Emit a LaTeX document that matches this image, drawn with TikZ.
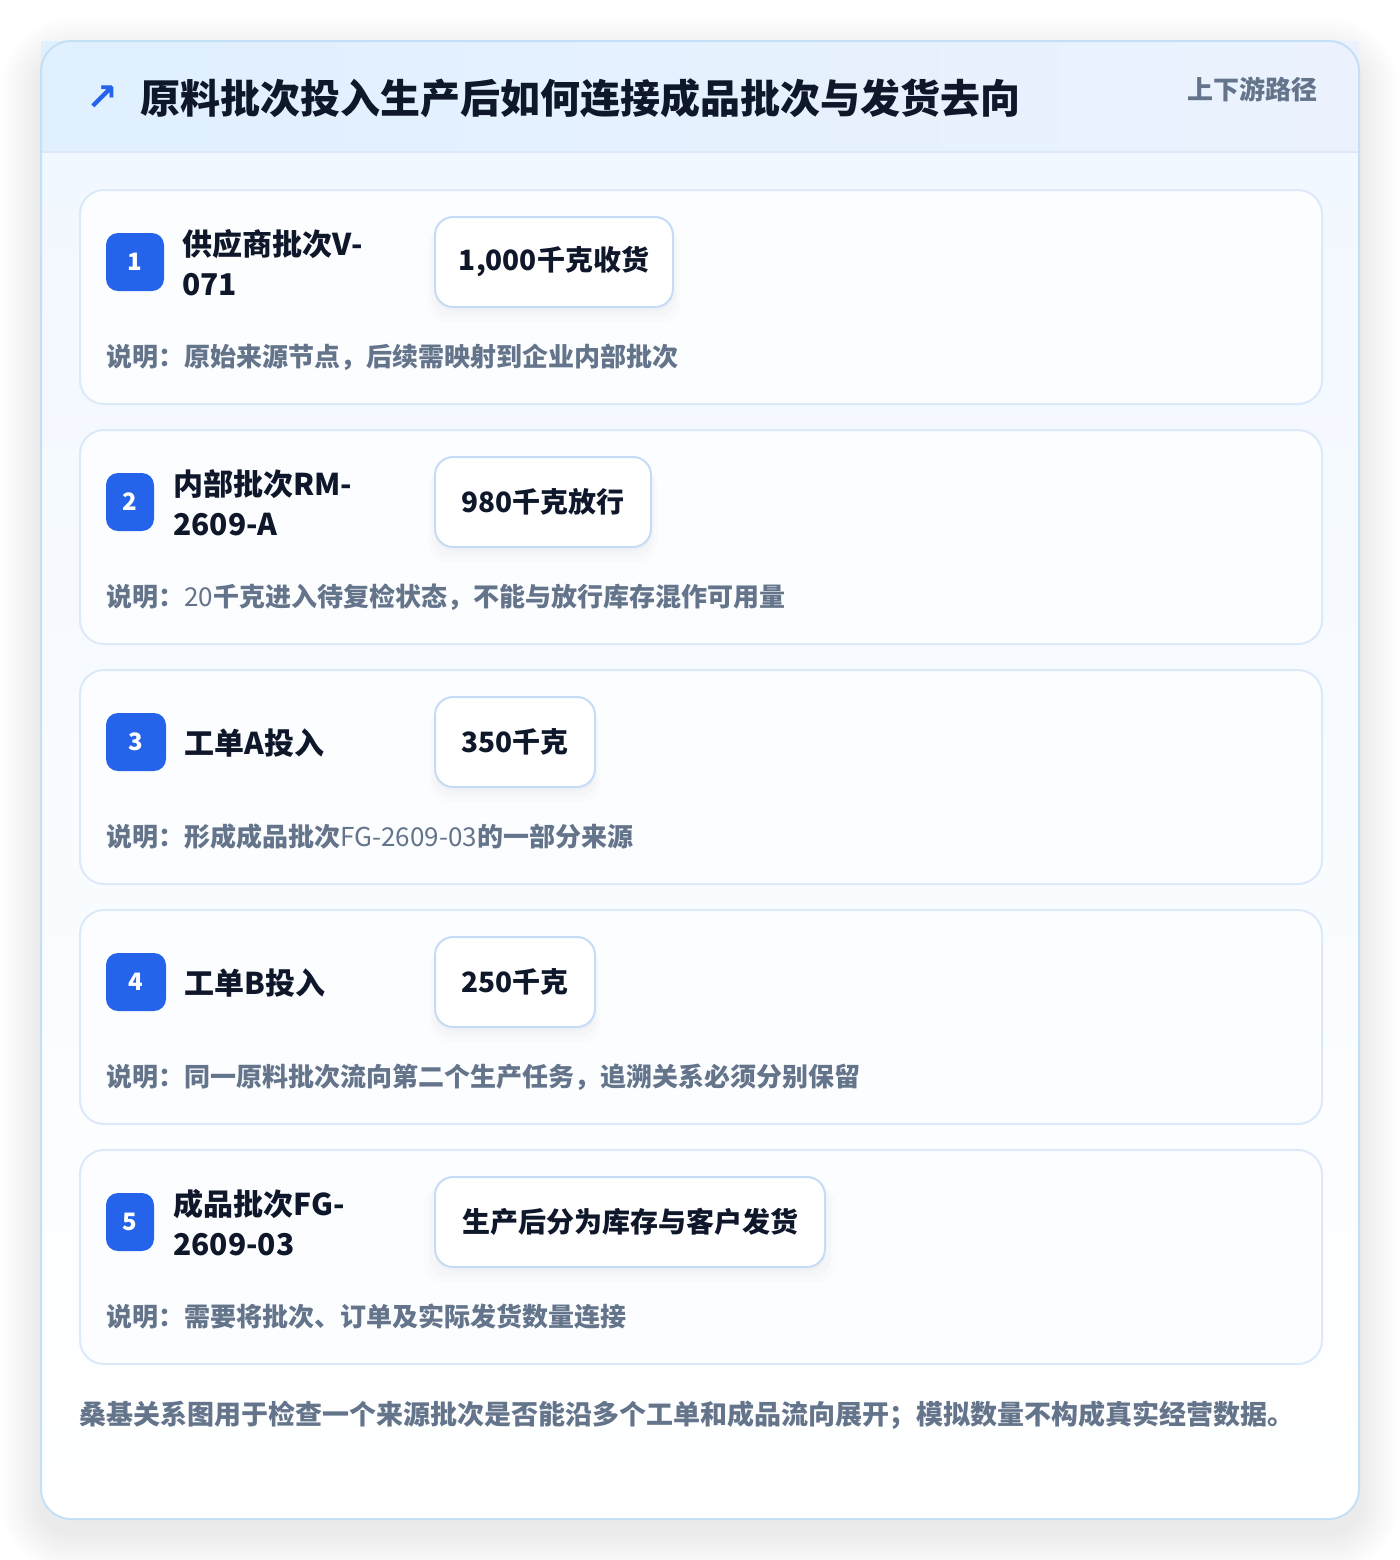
\documentclass[tikz,border=0pt]{standalone}
\usepackage{fontspec}
\setmainfont{Noto Sans CJK SC}
\newfontfamily\symf{DejaVu Sans}
\usetikzlibrary{shadows}
\definecolor{titlec}{HTML}{0F172A}
\definecolor{muted}{HTML}{64748B}
\definecolor{badgec}{HTML}{2563EB}
\definecolor{outerb}{HTML}{C3E0F7}
\definecolor{cardb}{HTML}{DCE9F8}
\definecolor{valb}{HTML}{C6DBF6}
\definecolor{headL}{HTML}{E0F0FE}
\definecolor{headR}{HTML}{EBF2FE}
\definecolor{bodyT}{HTML}{F2F8FF}
\definecolor{cardfill}{HTML}{FCFDFF}
\tikzset{
  cardbox/.style={draw=cardb, line width=1pt, fill=cardfill, rounded corners=12pt,
    minimum width=621pt, minimum height=107pt, anchor=north west, inner sep=0pt},
  badgebox/.style={fill=badgec, rounded corners=6pt, minimum height=29pt, inner sep=0pt,
    text=white, font=\fontsize{12pt}{14pt}\bfseries},
  titletext/.style={anchor=west, align=left, inner sep=0pt, text=titlec,
    font=\fontsize{15pt}{20pt}\bfseries},
  valbox/.style={draw=valb, line width=1pt, fill=white, rounded corners=9pt,
    minimum height=45pt, inner sep=0pt, text=titlec, font=\fontsize{14pt}{16pt}\bfseries,
    general shadow={shadow yshift=-2pt, opacity=0.02, fill=black},
    general shadow={shadow yshift=-4pt, shadow scale=1.03, opacity=0.015, fill=black},
    general shadow={shadow yshift=-6pt, shadow scale=1.06, opacity=0.012, fill=black}},
  desctext/.style={anchor=west, inner sep=0pt, text=muted, font=\fontsize{13pt}{15pt}\bfseries},
}
\begin{document}
\begin{tikzpicture}[x=0.5pt,y=-0.5pt]
\useasboundingbox (0,0) rectangle (1400,1560);
\fill[white] (0,0) rectangle (1400,1560);
% outer shadow
\foreach \s in {2,4,...,40} {
  \fill[black, opacity=0.0045, rounded corners={15pt+\s*0.5pt}] (41-\s,58-\s) rectangle (1359+\s,1533+\s);
}
% body
\begin{scope}
  \clip[rounded corners=15pt] (41,41) rectangle (1359,1519);
  \shade[top color=bodyT, bottom color=white] (41,152) rectangle (1359,1519);
\end{scope}
\shade[left color=headL, right color=headR] (41,41) rectangle (1359,152);
\draw[cardb, line width=1pt] (41,152) -- (1359,152);
\draw[outerb, line width=1pt, rounded corners=15pt] (41,41) rectangle (1359,1519);
% header
\node[text=badgec, inner sep=0pt, font=\symf\bfseries\fontsize{19pt}{19pt}\selectfont] (icon) at (102,98) {↗};
\node[anchor=west, inner sep=0pt, text=titlec, font=\fontsize{20pt}{24pt}\bfseries] (title) at (140,98) {原料批次投入生产后如何连接成品批次与发货去向};
\node[anchor=east, inner sep=0pt, text=muted, font=\fontsize{13pt}{15pt}\bfseries] (tag) at (1318,89) {上下游路径};
% card 1
\node[cardbox] (c1) at (79,189) {};
\node[badgebox, minimum width=29pt] (b1) at (135,262) {1};
\node[titletext] (t1) at (182,263) {供应商批次V-\\071};
\node[valbox, minimum width=119pt] (v1) at (554,262) {1,000千克收货};
\node[desctext] (d1) at (106,357) {说明：原始来源节点，后续需映射到企业内部批次};
% card 2
\node[cardbox] (c2) at (79,429) {};
\node[badgebox, minimum width=24pt] (b2) at (130,502) {2};
\node[titletext] (t2) at (173,503) {内部批次RM-\\2609-A};
\node[valbox, minimum width=108pt] (v2) at (543,502) {980千克放行};
\node[desctext] (d2) at (106,597) {说明：{\mdseries 20}千克进入待复检状态，不能与放行库存混作可用量};
% card 3
\node[cardbox] (c3) at (79,669) {};
\node[badgebox, minimum width=30pt] (b3) at (136,742) {3};
\node[titletext] (t3) at (184,743) {工单A投入};
\node[valbox, minimum width=80pt] (v3) at (515,742) {350千克};
\node[desctext] (d3) at (106,837) {说明：形成成品批次{\mdseries FG-2609-03}的一部分来源};
% card 4
\node[cardbox] (c4) at (79,909) {};
\node[badgebox, minimum width=30pt] (b4) at (136,982) {4};
\node[titletext] (t4) at (184,983) {工单B投入};
\node[valbox, minimum width=80pt] (v4) at (515,982) {250千克};
\node[desctext] (d4) at (106,1077) {说明：同一原料批次流向第二个生产任务，追溯关系必须分别保留};
% card 5
\node[cardbox] (c5) at (79,1149) {};
\node[badgebox, minimum width=24pt] (b5) at (130,1222) {5};
\node[titletext] (t5) at (173,1223) {成品批次FG-\\2609-03};
\node[valbox, minimum width=195pt] (v5) at (630,1222) {生产后分为库存与客户发货};
\node[desctext] (d5) at (106,1317) {说明：需要将批次、订单及实际发货数量连接};
% footer
\node[anchor=west, inner sep=0pt, text=muted, font=\fontsize{13.5pt}{16pt}\bfseries] (foot) at (79,1415) {桑基关系图用于检查一个来源批次是否能沿多个工单和成品流向展开；模拟数量不构成真实经营数据。};
\end{tikzpicture}
\end{document}
